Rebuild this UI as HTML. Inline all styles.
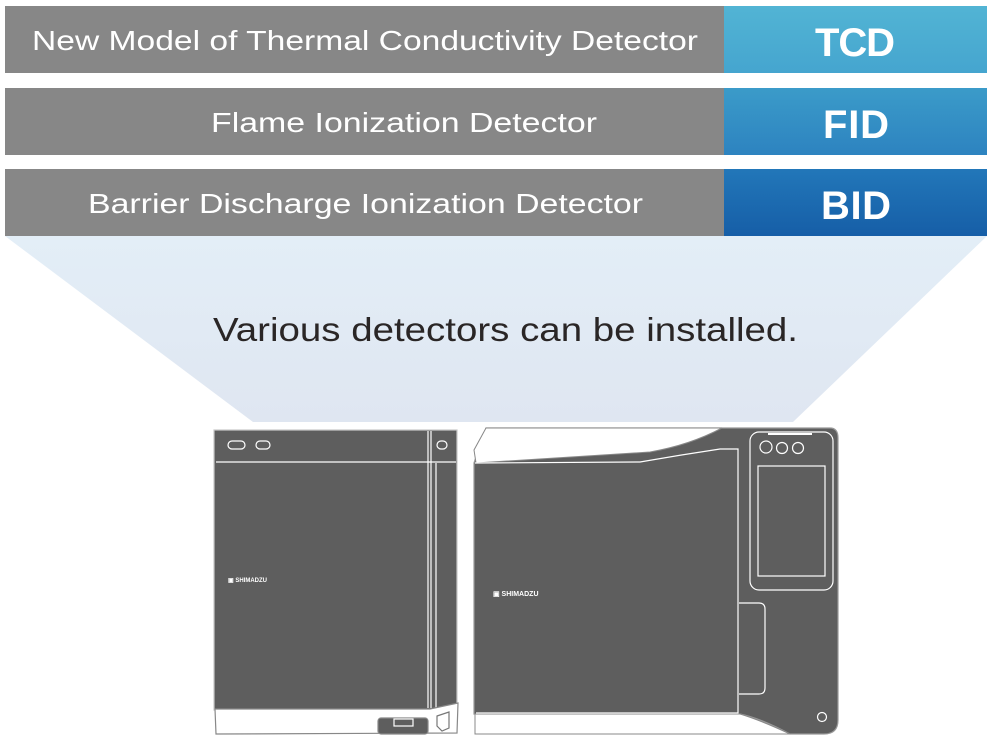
<!DOCTYPE html>
<html><head><meta charset="utf-8"><style>
html,body{margin:0;padding:0;background:#fff;width:991px;height:737px;overflow:hidden}
svg{display:block}
text{font-family:"Liberation Sans",sans-serif}
</style></head><body>
<svg width="991" height="737" viewBox="0 0 991 737" xmlns="http://www.w3.org/2000/svg">
<defs>
<linearGradient id="g1" x1="0" y1="0" x2="0" y2="1"><stop offset="0" stop-color="#52b4d4"/><stop offset="1" stop-color="#45a5cf"/></linearGradient>
<linearGradient id="g2" x1="0" y1="0" x2="0" y2="1"><stop offset="0" stop-color="#3b9bc9"/><stop offset="1" stop-color="#2d83c0"/></linearGradient>
<linearGradient id="g3" x1="0" y1="0" x2="0" y2="1"><stop offset="0" stop-color="#2277b9"/><stop offset="1" stop-color="#165ea7"/></linearGradient>
<linearGradient id="gt" x1="0" y1="0" x2="0" y2="1"><stop offset="0" stop-color="#e3eef7"/><stop offset="1" stop-color="#dfe6f1"/></linearGradient>
</defs>
<polygon points="5,236 987,236 793,422 253,422" fill="url(#gt)"/>
<rect x="5" y="6" width="719" height="67" fill="#878787"/>
<rect x="724" y="6" width="263" height="67" fill="url(#g1)"/>
<rect x="5" y="88" width="719" height="67" fill="#878787"/>
<rect x="724" y="88" width="263" height="67" fill="url(#g2)"/>
<rect x="5" y="169" width="719" height="67" fill="#878787"/>
<rect x="724" y="169" width="263" height="67" fill="url(#g3)"/>
<g fill="#fff" font-size="28">
<text x="32" y="50" textLength="666" lengthAdjust="spacingAndGlyphs">New Model of Thermal Conductivity Detector</text>
<text x="211" y="132" textLength="386" lengthAdjust="spacingAndGlyphs">Flame Ionization Detector</text>
<text x="88" y="213" textLength="555" lengthAdjust="spacingAndGlyphs">Barrier Discharge Ionization Detector</text>
</g>
<g fill="#fff" font-size="40" font-weight="bold">
<text x="815" y="56" textLength="80" lengthAdjust="spacing">TCD</text>
<text x="823" y="138" textLength="66" lengthAdjust="spacing">FID</text>
<text x="821" y="219" textLength="70" lengthAdjust="spacing">BID</text>
</g>
<text x="213" y="341" font-size="33" fill="#2a2626" textLength="585" lengthAdjust="spacingAndGlyphs">Various detectors can be installed.</text>

<!-- left unit -->
<g stroke="#fff" stroke-width="1.2">
<rect x="214" y="430" width="243" height="280" fill="#5e5e5e" stroke="#c8c8c8"/>
<line x1="216" y1="462" x2="456" y2="462"/>
<line x1="428" y1="431" x2="428" y2="708"/>
<line x1="431" y1="431" x2="431" y2="708"/>
<line x1="436" y1="463" x2="436" y2="708"/>
<rect x="228" y="441" width="17" height="8" rx="4" fill="none"/>
<rect x="256" y="441" width="14" height="8" rx="4" fill="none"/>
<rect x="437" y="441" width="10" height="8" rx="4" fill="none"/>
<path d="M215,709 L430,709 L458,703 L457,733 L216,734 Z" fill="#fff" stroke="#888"/>
<rect x="378" y="718" width="50" height="16" rx="3" fill="#5e5e5e" stroke="#888"/>
<rect x="394" y="719" width="19" height="7" fill="none"/>
<path d="M437,716 L449,712 L449,728 L442,731 L437,726 Z" fill="none" stroke="#777"/>
</g>
<text x="228" y="582" font-size="6" fill="#fff" font-weight="bold">▣ SHIMADZU</text>

<!-- right unit -->
<path d="M474,463 L486,428 L830,428 Q838,428 838,438 L838,720 Q838,734 824,734 L790,734 Q760,718 740,714 L474,714 Z" fill="#5e5e5e" stroke="#999" stroke-width="1.2"/>
<path d="M486,428 L722,428 Q690,445 650,452 L476,463 L474,450 Z" fill="#fff" stroke="#888"/>
<path d="M475,714 L740,714 Q760,720 790,734 L475,734 Z" fill="#fff" stroke="#888"/>
<g stroke="#fff" stroke-width="1.2" fill="none">
<path d="M475,463 L640,462 Q680,455 720,449 L738,449 L738,713 L476,713"/>
<rect x="750" y="432" width="83" height="158" rx="9"/>
<line x1="768" y1="434" x2="812" y2="434" stroke-width="2"/>
<circle cx="766" cy="447" r="6"/>
<circle cx="782" cy="448" r="5.5"/>
<circle cx="798" cy="448" r="5.5"/>
<rect x="758" y="466" width="67" height="110"/>
<path d="M739,603 L759,603 Q765,603 765,609 L765,688 Q765,694 759,694 L739,694"/>
<circle cx="822" cy="717" r="4.5"/>
</g>
<text x="493" y="596" font-size="7" fill="#fff" font-weight="bold">▣ SHIMADZU</text>
</svg>
</body></html>
